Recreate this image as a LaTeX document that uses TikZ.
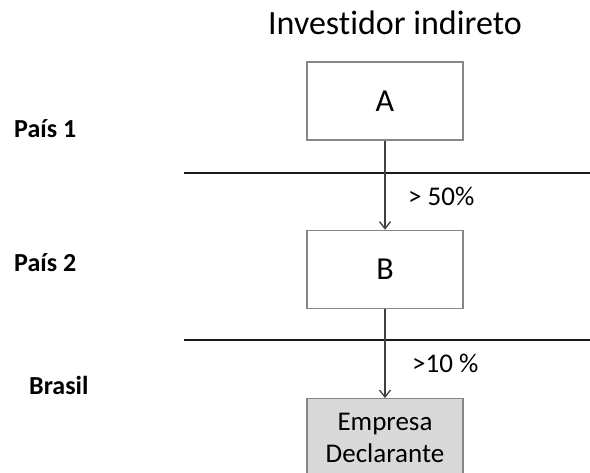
\documentclass[tikz,border=0pt]{standalone}
\usepackage{fontspec}
\setmainfont{Carlito}[Ligatures=NoCommon]
\usetikzlibrary{arrows.meta,positioning}

\begin{document}
\begin{tikzpicture}[
    x=1pt, y=1pt,
    node distance=89pt,
    entity/.style={rectangle, draw=gray!95, line width=1.4pt, minimum width=156pt, minimum height=78pt, inner sep=0pt, font=\fontsize{32}{38}\selectfont},
    reporter/.style={entity, fill=gray!30, align=center, font=\fontsize{27}{32}\selectfont},
    country/.style={anchor=base west, inner sep=0pt, font=\fontsize{26}{31}\selectfont\bfseries},
    share/.style={anchor=base west, inner sep=0pt, font=\fontsize{27}{32}\selectfont},
    border/.style={line width=2.4pt, black!90},
    arrow/.style={-{Straight Barb[length=7pt,width=11pt]}, line width=1.3pt, black!75}
]
\useasboundingbox (0,0) rectangle (590,-473);

% Title
\node[anchor=base, inner sep=0pt, font=\fontsize{34}{40}\selectfont] (title) at (395,-35) {Investidor indireto};

% Chain of companies
\node[entity] (A) at (385,-101) {A};
\node[entity, below=of A] (B) {B};
\node[reporter, below=of B] (emp) {Empresa\\Declarante};

% Countries
\node[country] (pais1) at (14,-138) {País 1};
\node[country] (pais2) at (14,-272) {País 2};
\node[country] (brasil) at (29,-395) {Brasil};

% Borders between countries
\coordinate (b1w) at (184,-173);
\coordinate (b1e) at (590,-173);
\coordinate (b2w) at (184,-340);
\coordinate (b2e) at (590,-340);
\draw[border] (b1w) -- (b1e);
\draw[border] (b2w) -- (b2e);

% Arrows
\draw[arrow] (A) -- (B);
\draw[arrow] (B) -- (emp);

% Shares
\node[share] (s1) at (408,-206) {> 50\%};
\node[share] (s2) at (412,-373) {>10 \%};

\end{tikzpicture}
\end{document}
